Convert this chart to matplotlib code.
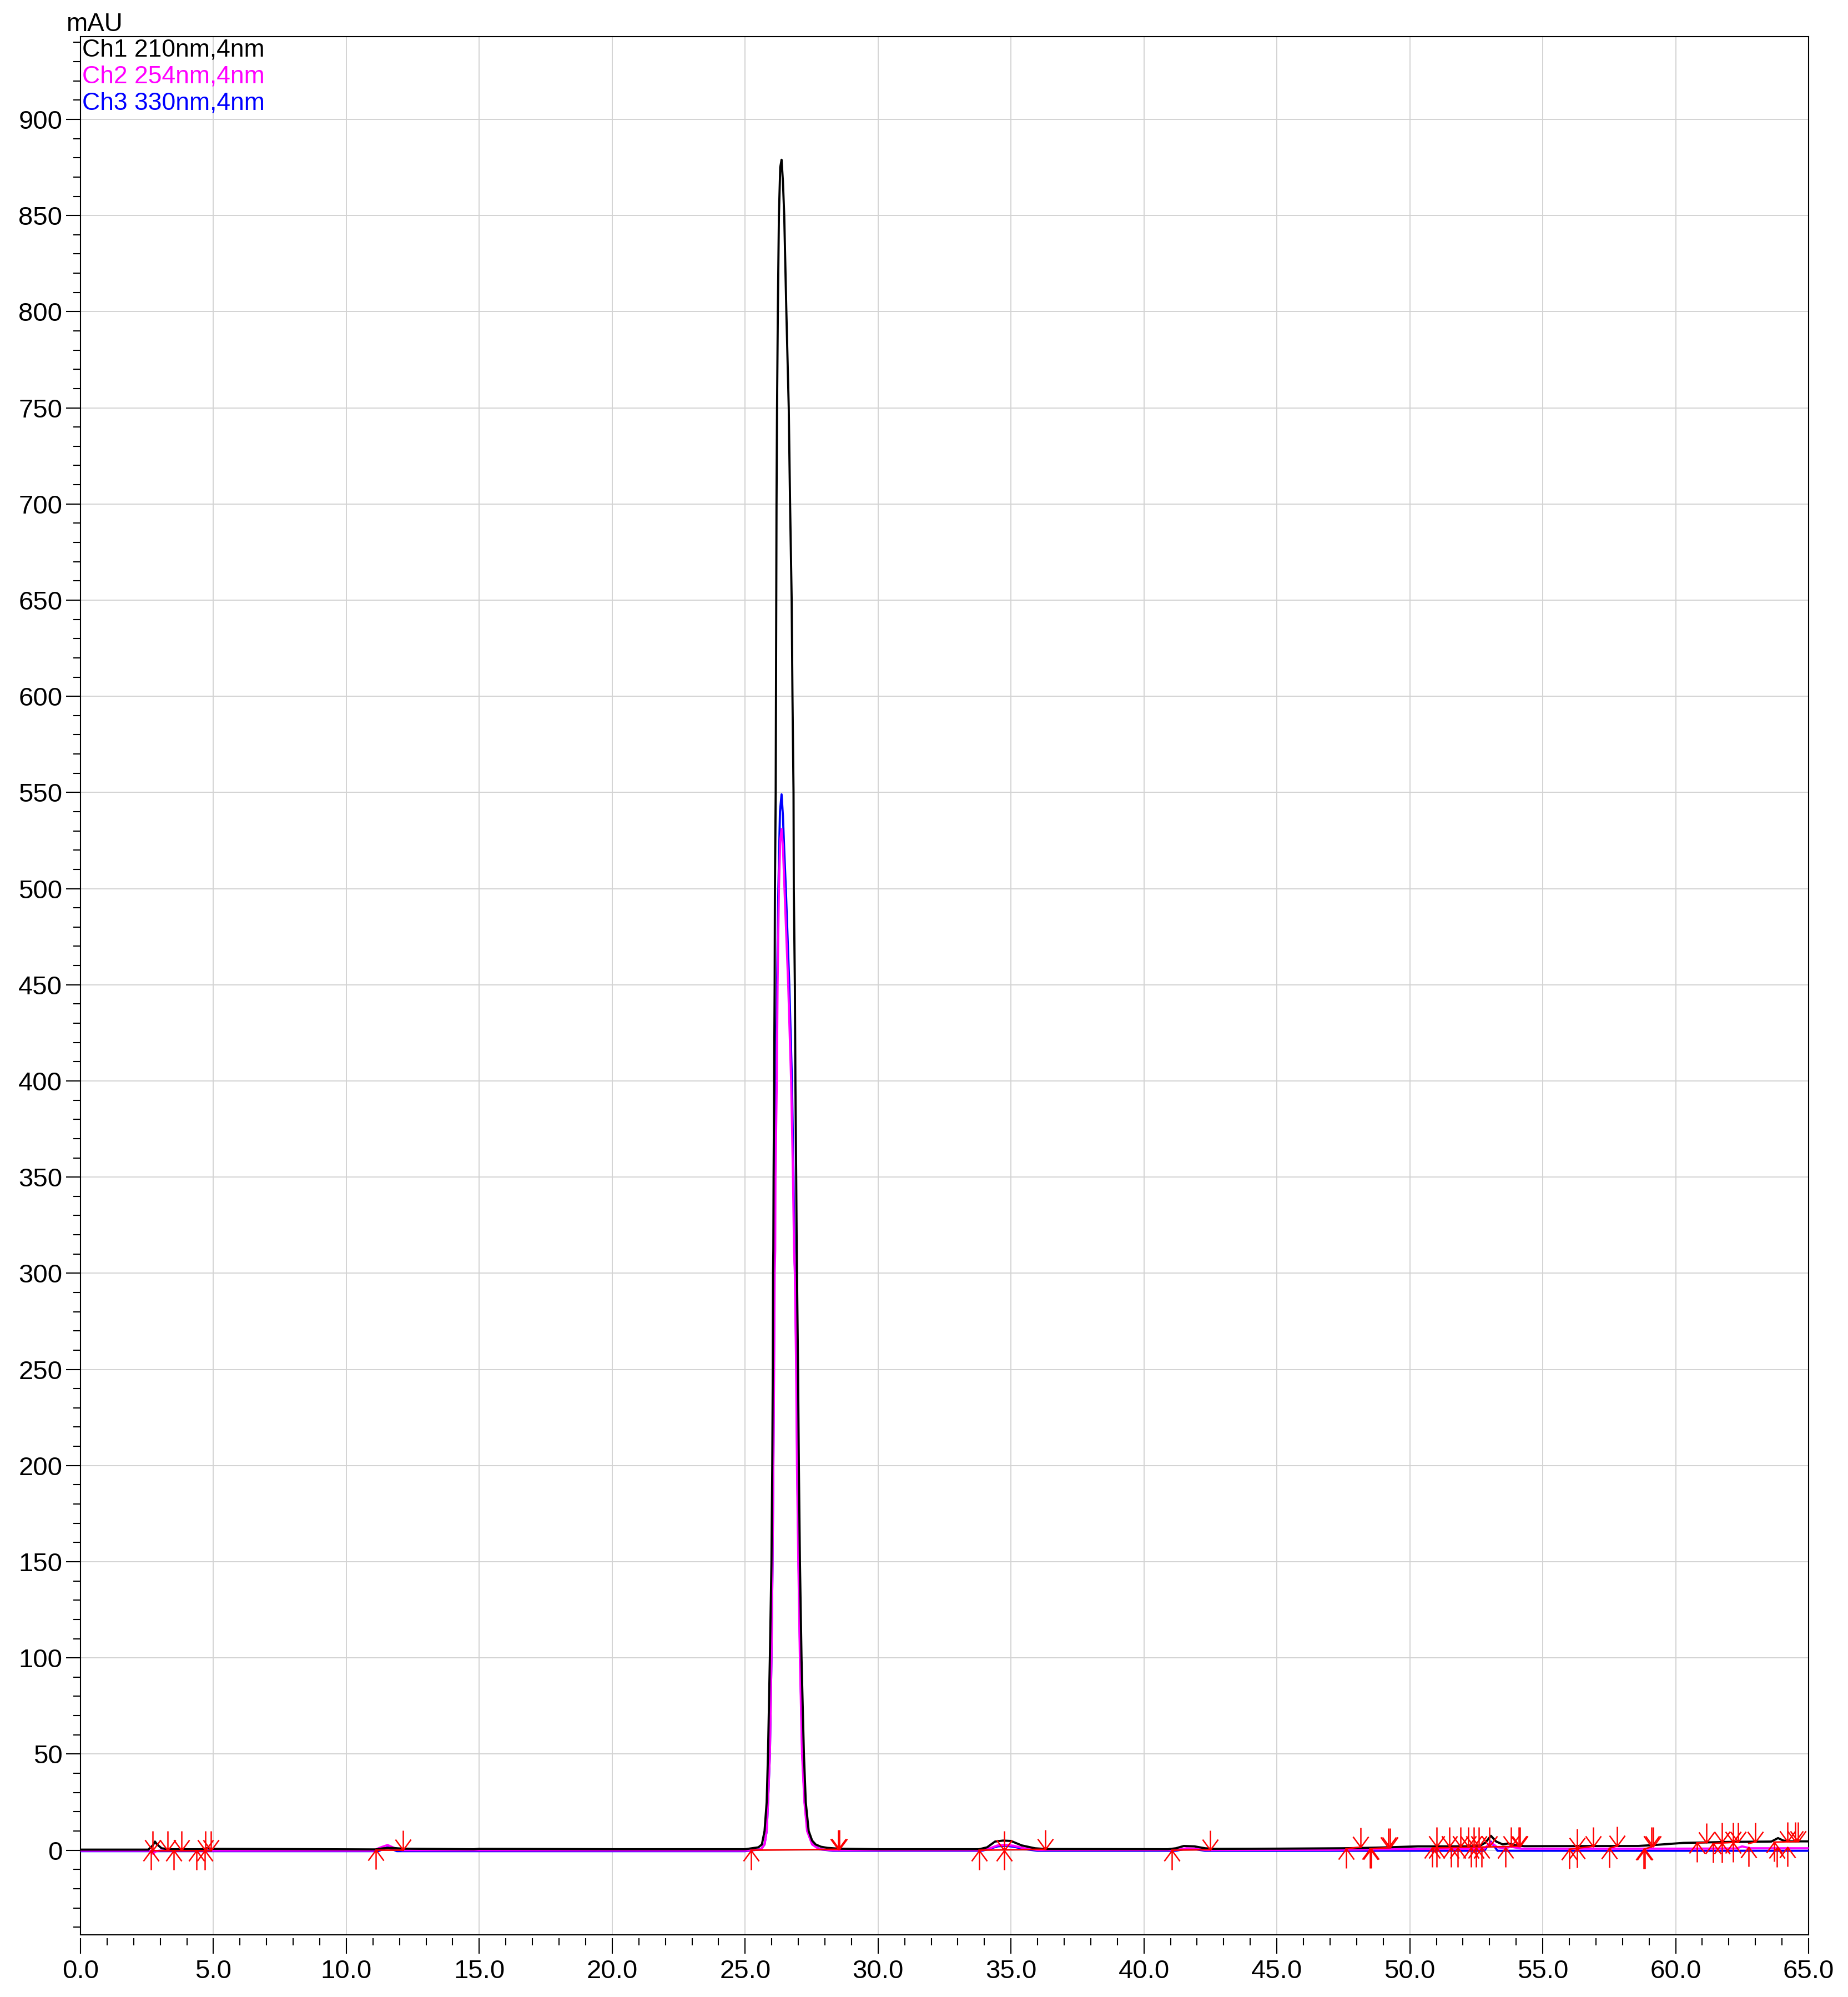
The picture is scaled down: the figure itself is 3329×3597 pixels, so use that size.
import numpy as np
import matplotlib
matplotlib.use('Agg')
import matplotlib.pyplot as plt
from matplotlib.path import Path
from matplotlib.ticker import MultipleLocator, FormatStrFormatter

plt.rcParams['font.family'] = ['Liberation Sans', 'DejaVu Sans']

# Ch1 210nm (black)
ch1_t = [0.0, 2.55, 2.72, 2.80, 2.88, 3.05, 3.3, 4.55, 4.75, 4.95, 11.1, 11.4, 11.7, 12.1, 14.8, 15.0,
         20.0, 25.0, 25.5, 25.63, 25.73, 25.81, 25.86, 25.93, 25.99, 26.02, 26.04, 26.05, 26.06, 26.07,
         26.09, 26.11, 26.12, 26.15, 26.16, 26.17, 26.18, 26.20, 26.23, 26.27, 26.32, 26.37, 26.42, 26.47,
         26.55, 26.64, 26.69, 26.75, 26.78, 26.82, 26.83, 26.87, 26.89, 26.92, 26.94, 26.95, 26.99, 27.02,
         27.06, 27.12, 27.21, 27.28, 27.39, 27.52, 27.65, 27.85, 28.1, 28.5, 30.0, 33.8, 34.1, 34.4, 34.7,
         35.0, 35.4, 35.9, 36.3, 40.9, 41.2, 41.5, 41.9, 42.3, 42.6, 45.0, 47.5, 48.3, 49.2, 50.3, 52.6,
         52.85, 53.05, 53.25, 53.5, 53.7, 54.0, 54.3, 58.6, 59.3, 60.3, 62.0, 63.6, 63.85, 64.05, 64.3, 65.0]
ch1_v = [0.3, 0.3, 2.5, 4.5, 3.0, 1.0, 0.5, 0.5, 1.0, 0.7, 0.4, 1.0, 1.2, 0.8, 0.5, 0.7,
         0.5, 0.5, 1.5, 3, 10, 25, 50, 100, 150, 200, 250, 300, 312, 350,
         400, 450, 500, 550, 600, 650, 700, 750, 800, 850, 875, 879, 868, 850,
         800, 750, 700, 650, 600, 550, 500, 450, 400, 350, 312, 300, 250, 200,
         150, 100, 50, 25, 10, 5, 3, 1.8, 1.2, 0.8, 0.5, 0.5, 1.5, 4.5, 5.0,
         4.8, 2.5, 1.0, 0.6, 0.5, 1.0, 2.2, 2.0, 1.0, 0.7, 0.8, 1.0, 1.2, 1.5, 2.0, 2.0,
         4.0, 7.5, 4.5, 3.0, 3.5, 2.5, 2.1, 2.2, 2.8, 3.8, 4.3, 4.5, 6.3, 5.0, 4.6, 4.6]

# Ch2 254nm (magenta)
ch2_t = [0.0, 2.6, 2.72, 2.85, 3.0, 11.0, 11.3, 11.55, 11.8, 12.1, 25.0, 25.6, 25.73, 25.81, 25.86,
         25.93, 25.99, 26.03, 26.06, 26.09, 26.11, 26.13, 26.14, 26.19, 26.22, 26.27, 26.32, 26.37, 26.42,
         26.48, 26.62, 26.73, 26.80, 26.84, 26.87, 26.92, 26.95, 27.00, 27.06, 27.14, 27.23, 27.33, 27.52,
         27.8, 28.3, 33.9, 34.2, 34.5, 34.8, 35.1, 35.5, 36.0, 41.2, 41.6, 41.9, 42.3, 47.0, 50.0, 52.8,
         53.05, 53.3, 53.6, 53.8, 54.2, 60.0, 62.3, 62.5, 62.8, 65.0]
ch2_v = [-0.2, -0.2, -1.8, -0.5, -0.2, -0.2, 1.5, 2.7, 1.2, 0.0, -0.2, 0.5, 3, 10, 25,
         50, 100, 150, 200, 250, 300, 312, 350, 400, 450, 500, 525, 531, 522,
         500, 450, 400, 350, 312, 300, 250, 200, 150, 100, 50, 25, 10, 3,
         0.5, 0.0, 0.0, 1.0, 2.5, 2.8, 2.3, 1.0, 0.1, 0.1, 1.0, 0.8, 0.1, 0.2, 0.6, 0.8,
         4.0, 1.5, 1.0, 1.8, 0.8, 0.8, 0.9, 2.0, 1.0, 1.0]

# Ch3 330nm (blue)
ch3_t = [0.0, 11.2, 11.55, 11.9, 25.0, 25.6, 25.73, 25.81, 25.86, 25.93, 25.99, 26.03, 26.06, 26.08,
         26.10, 26.12, 26.16, 26.20, 26.25, 26.31, 26.37, 26.42, 26.47, 26.53, 26.66, 26.76, 26.82, 26.85,
         26.88, 26.93, 26.96, 27.01, 27.07, 27.15, 27.24, 27.34, 27.53, 27.8, 28.3, 33.9, 34.2, 34.5, 34.8,
         35.1, 35.5, 36.0, 41.2, 41.6, 41.9, 42.3, 52.8, 53.05, 53.3, 65.0]
ch3_v = [-0.5, -0.5, 1.5, -0.5, -0.5, 0.5, 3, 10, 25, 50, 100, 150, 200, 250,
         300, 350, 400, 450, 500, 540, 549, 538, 520, 500, 450, 400, 350, 312,
         300, 250, 200, 150, 100, 50, 25, 10, 3, 0.5, -0.3, -0.3, 0.8, 2.0, 2.3,
         1.8, 0.6, -0.3, -0.3, 0.8, 0.6, -0.3, -0.3, 4.5, -0.3, -0.3]

# peak start (up arrows) and peak end (down arrows)
up_t = [2.65, 3.51, 4.37, 4.67, 11.1, 25.22, 33.8, 34.75, 41.05, 47.6, 48.5, 48.55, 50.85, 51.0,
        51.55, 51.8, 52.3, 52.5, 52.7, 53.6, 56.0, 56.3, 57.5, 58.8, 58.85, 60.8, 61.4, 61.75, 62.17,
        62.75, 63.7, 63.8, 64.2]
up_v = [0, 0, 0, 0, 0.3, 0, 0, 0, 0, 0.8, 0.8, 0.8, 1.2, 1.2,
        1.2, 1.2, 1.2, 1.2, 1.2, 1.2, 0.5, 1.0, 1.0, 0.5, 0.5, 3.8, 3.5, 3.6, 3.8,
        1.5, 4.2, 1.2, 1.5]
dn_t = [2.71, 3.27, 3.81, 4.70, 4.90, 12.14, 28.5, 28.55, 34.75, 36.3, 42.5, 48.15, 49.2, 49.25,
        51.0, 51.5, 51.9, 52.2, 52.4, 52.6, 53.0, 53.8, 54.1, 54.15, 56.3, 56.9, 57.8, 59.1, 59.15,
        61.15, 61.75, 62.17, 62.35, 63.0, 64.2, 64.5, 64.6]
dn_v = [0, 0, 0, 0, 0, 0.3, 0.5, 0.5, 0, 0.5, 0.3, 1.6, 1.3, 1.3,
        2.0, 2.0, 2.0, 2.0, 2.0, 2.0, 2.0, 2.0, 2.0, 2.0, 1.0, 2.0, 2.2, 2.0, 2.0,
        4.0, 4.1, 4.2, 4.2, 4.3, 4.5, 4.5, 4.5]

# drawn baselines (start, end, level at start, level at end)
seg_t0 = [2.65, 11.1, 25.22, 33.8, 41.05, 47.6, 48.5, 50.85, 56.0, 57.5, 58.8, 60.8, 61.4, 62.75, 63.7]
seg_t1 = [4.9, 12.14, 28.55, 36.3, 42.5, 48.15, 49.25, 54.15, 56.9, 57.8, 59.15, 61.15, 62.35, 63.0, 64.6]
seg_v0 = [0, 0.3, 0, 0, 0, 0.8, 0.8, 1.2, 0.5, 1.0, 0.5, 3.8, 3.5, 3.5, 4.2]
seg_v1 = [0, 0.3, 0.5, 0.5, 0.3, 1.6, 1.3, 2.0, 2.0, 2.2, 2.0, 4.0, 4.2, 4.3, 4.5]

channels = ['Ch1 210nm,4nm', 'Ch2 254nm,4nm', 'Ch3 330nm,4nm']
ch_colors = ['black', '#ff00ff', '#0000ff']

W, H = 3329, 3597
fig = plt.figure(figsize=(W / 100, H / 100), dpi=100)
ax = fig.add_axes([145 / W, 1 - 3485 / H, (3258 - 145) / W, (3485 - 66) / H])

ax.plot(ch3_t, ch3_v, color=ch_colors[2], lw=2.8, zorder=3)
ax.plot(ch2_t, ch2_v, color=ch_colors[1], lw=2.8, zorder=4)
ax.plot(ch1_t, ch1_v, color=ch_colors[0], lw=2.8, zorder=5)

# red baselines
for a, b, v0, v1 in zip(seg_t0, seg_t1, seg_v0, seg_v1):
    ax.plot([a, b], [v0, v1], color='red', lw=2.0, zorder=6)

# arrow markers (tip at origin)
L, hh, hw = 35, 19, 14
up_path = Path([(0, 0), (0, -L), (-hw, -hh), (0, 0), (hw, -hh)],
               [Path.MOVETO, Path.LINETO, Path.MOVETO, Path.LINETO, Path.LINETO])
dn_path = Path([(0, 0), (0, L), (-hw, hh), (0, 0), (hw, hh)],
               [Path.MOVETO, Path.LINETO, Path.MOVETO, Path.LINETO, Path.LINETO])
ms = 2 * L * 72 / 100
ax.plot(up_t, up_v, ls='none', marker=up_path, ms=ms, mec='red', mfc='none', mew=1.8, zorder=7)
ax.plot(dn_t, dn_v, ls='none', marker=dn_path, ms=ms, mec='red', mfc='none', mew=1.8, zorder=7)

ax.set_xlim(0, 65)
ax.set_ylim(-44, 943)

ax.xaxis.set_major_locator(MultipleLocator(5))
ax.xaxis.set_minor_locator(MultipleLocator(1))
ax.xaxis.set_major_formatter(FormatStrFormatter('%.1f'))
ax.yaxis.set_major_locator(MultipleLocator(50))
ax.yaxis.set_minor_locator(MultipleLocator(10))
ax.yaxis.set_major_formatter(FormatStrFormatter('%d'))

ax.grid(True, which='major', color='#d3d3d3', lw=1.4, zorder=0)
ax.set_axisbelow(True)

for s in ['top', 'right', 'left']:
    ax.spines[s].set_linewidth(1.5)
ax.spines['bottom'].set_position(('outward', 4))
ax.spines['bottom'].set_visible(False)
ax.plot([0, 1], [0, 0], transform=ax.transAxes, color='black', lw=1.5, clip_on=False, zorder=8)

ax.tick_params(axis='x', which='major', length=20, width=1.5, pad=8, labelsize=34)
ax.tick_params(axis='x', which='minor', length=9.5, width=1.5)
ax.tick_params(axis='y', which='major', length=18.5, width=1.5, pad=5, labelsize=34)
ax.tick_params(axis='y', which='minor', length=9.5, width=1.5)

fig.text(119 / W, 1 - 22 / H, 'mAU', fontsize=33, va='top', ha='left')
for i, (name, c) in enumerate(zip(channels, ch_colors)):
    ax.text(0.001, 0.999 - i * 0.0141, name, transform=ax.transAxes, color=c,
            fontsize=32, va='top', ha='left', zorder=9)

fig.savefig('out.png', dpi=100)
